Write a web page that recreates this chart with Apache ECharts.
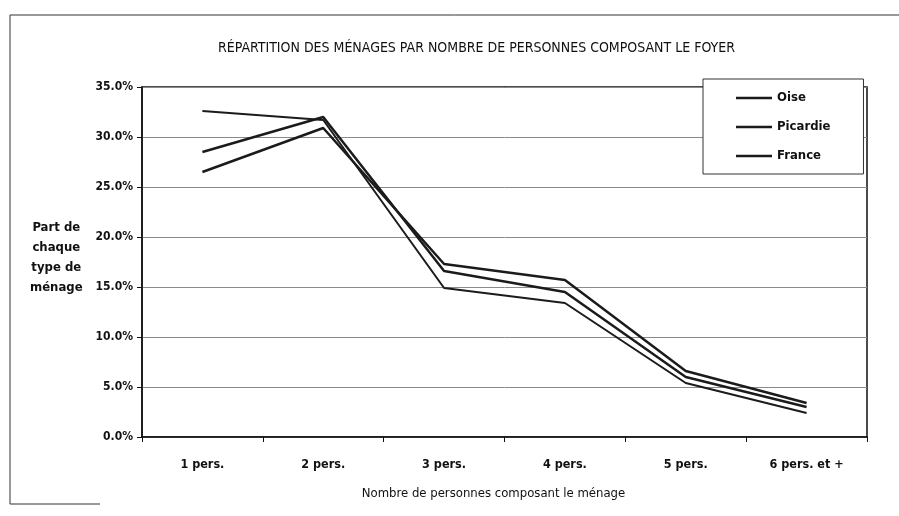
<!DOCTYPE html>
<html>
<head>
<meta charset="utf-8">
<script src="https://cdn.jsdelivr.net/npm/echarts@6/dist/echarts.min.js"></script>
<style>html,body{margin:0;padding:0;background:#fff}#c{width:899px;height:516px}</style>
</head>
<body>
<div id="c"></div>
<script>
var categories = ['1 pers.', '2 pers.', '3 pers.', '4 pers.', '5 pers.', '6 pers. et +'];
var oise = [26.5, 30.9, 17.3, 15.7, 6.6, 3.4];
var picardie = [28.5, 32.0, 16.6, 14.5, 6.0, 3.0];
var france = [32.6, 31.7, 14.9, 13.4, 5.4, 2.4];
var seriesNames = ['Oise', 'Picardie', 'France'];
var yTicks = [0, 5, 10, 15, 20, 25, 30, 35];

var FONT = '"DejaVu Sans Condensed", "Noto Sans", sans-serif';
var chart = echarts.init(document.getElementById('c'));
function mk(name, data, w) {
  return {
    name: name, type: 'line', data: data, symbol: 'none', showSymbol: false,
    lineStyle: { color: '#1b1b1b', width: w }, itemStyle: { color: '#1b1b1b' },
    animation: false, z: 3
  };
}
chart.setOption({
  animation: false,
  backgroundColor: '#fff',
  title: {
    text: 'RÉPARTITION DES MÉNAGES PAR NOMBRE DE PERSONNES COMPOSANT LE FOYER',
    left: 213, top: 36,
    textStyle: { fontFamily: FONT, fontSize: 14, fontWeight: 'normal', color: '#111' }
  },
  legend: {
    data: [
      { name: seriesNames[0], icon: 'rect', itemStyle: { color: '#1b1b1b' } },
      { name: seriesNames[1], icon: 'rect', itemStyle: { color: '#1b1b1b' } },
      { name: seriesNames[2], icon: 'rect', itemStyle: { color: '#1b1b1b' } }
    ],
    orient: 'vertical',
    left: 703, top: 79,
    padding: [11, 33, 10, 33],
    itemWidth: 36, itemHeight: 2.5, itemGap: 13,
    backgroundColor: '#fff', borderColor: '#333', borderWidth: 1,
    textStyle: { fontFamily: FONT, fontSize: 13, fontWeight: 'bold', color: '#111', lineHeight: 16 },
    z: 10
  },
  grid: { left: 142, right: 32, top: 87, bottom: 79, show: true, borderColor: '#111', borderWidth: 1.5, backgroundColor: 'transparent' },
  xAxis: {
    type: 'category', data: categories, boundaryGap: true,
    axisLine: { lineStyle: { color: '#111', width: 1.5 } },
    axisTick: { show: true, length: 5, lineStyle: { color: '#111' } },
    axisLabel: { margin: 21, fontFamily: FONT, fontSize: 12.5, fontWeight: 'bold', color: '#111' },
    name: 'Nombre de personnes composant le ménage', nameLocation: 'middle', nameGap: 50,
    nameTextStyle: { fontFamily: FONT, fontSize: 13, color: '#111', padding: [0, 22, 0, 0] }
  },
  yAxis: {
    type: 'value', min: yTicks[0], max: yTicks[yTicks.length - 1], interval: 5,
    axisLine: { show: true, lineStyle: { color: '#111', width: 1.5 } },
    axisTick: { show: true, length: 5, lineStyle: { color: '#111' } },
    axisLabel: { margin: 9, fontFamily: FONT, fontSize: 12, fontWeight: 'bold', color: '#111', formatter: function (v) { return v.toFixed(1) + '%'; } },
    splitLine: { lineStyle: { color: '#8a8a8a', width: 1 } }
  },
  graphic: [
    { type: 'text', left: 30, top: 218, style: { text: 'Part de\nchaque\ntype de\nménage', fontFamily: FONT, fontSize: 13, fontWeight: 'bold', fill: '#111', lineHeight: 20, textAlign: 'center', x: 26 } },
    { type: 'line', shape: { x1: 10, y1: 15, x2: 899, y2: 15 }, style: { stroke: '#333', lineWidth: 1 } },
    { type: 'line', shape: { x1: 10, y1: 15, x2: 10, y2: 504 }, style: { stroke: '#333', lineWidth: 1 } },
    { type: 'line', shape: { x1: 10, y1: 504, x2: 100, y2: 504 }, style: { stroke: '#333', lineWidth: 1 } }
  ],
  series: [mk('Oise', oise, 2.5), mk('Picardie', picardie, 2.5), mk('France', france, 2)]
});
</script>
</body>
</html>
